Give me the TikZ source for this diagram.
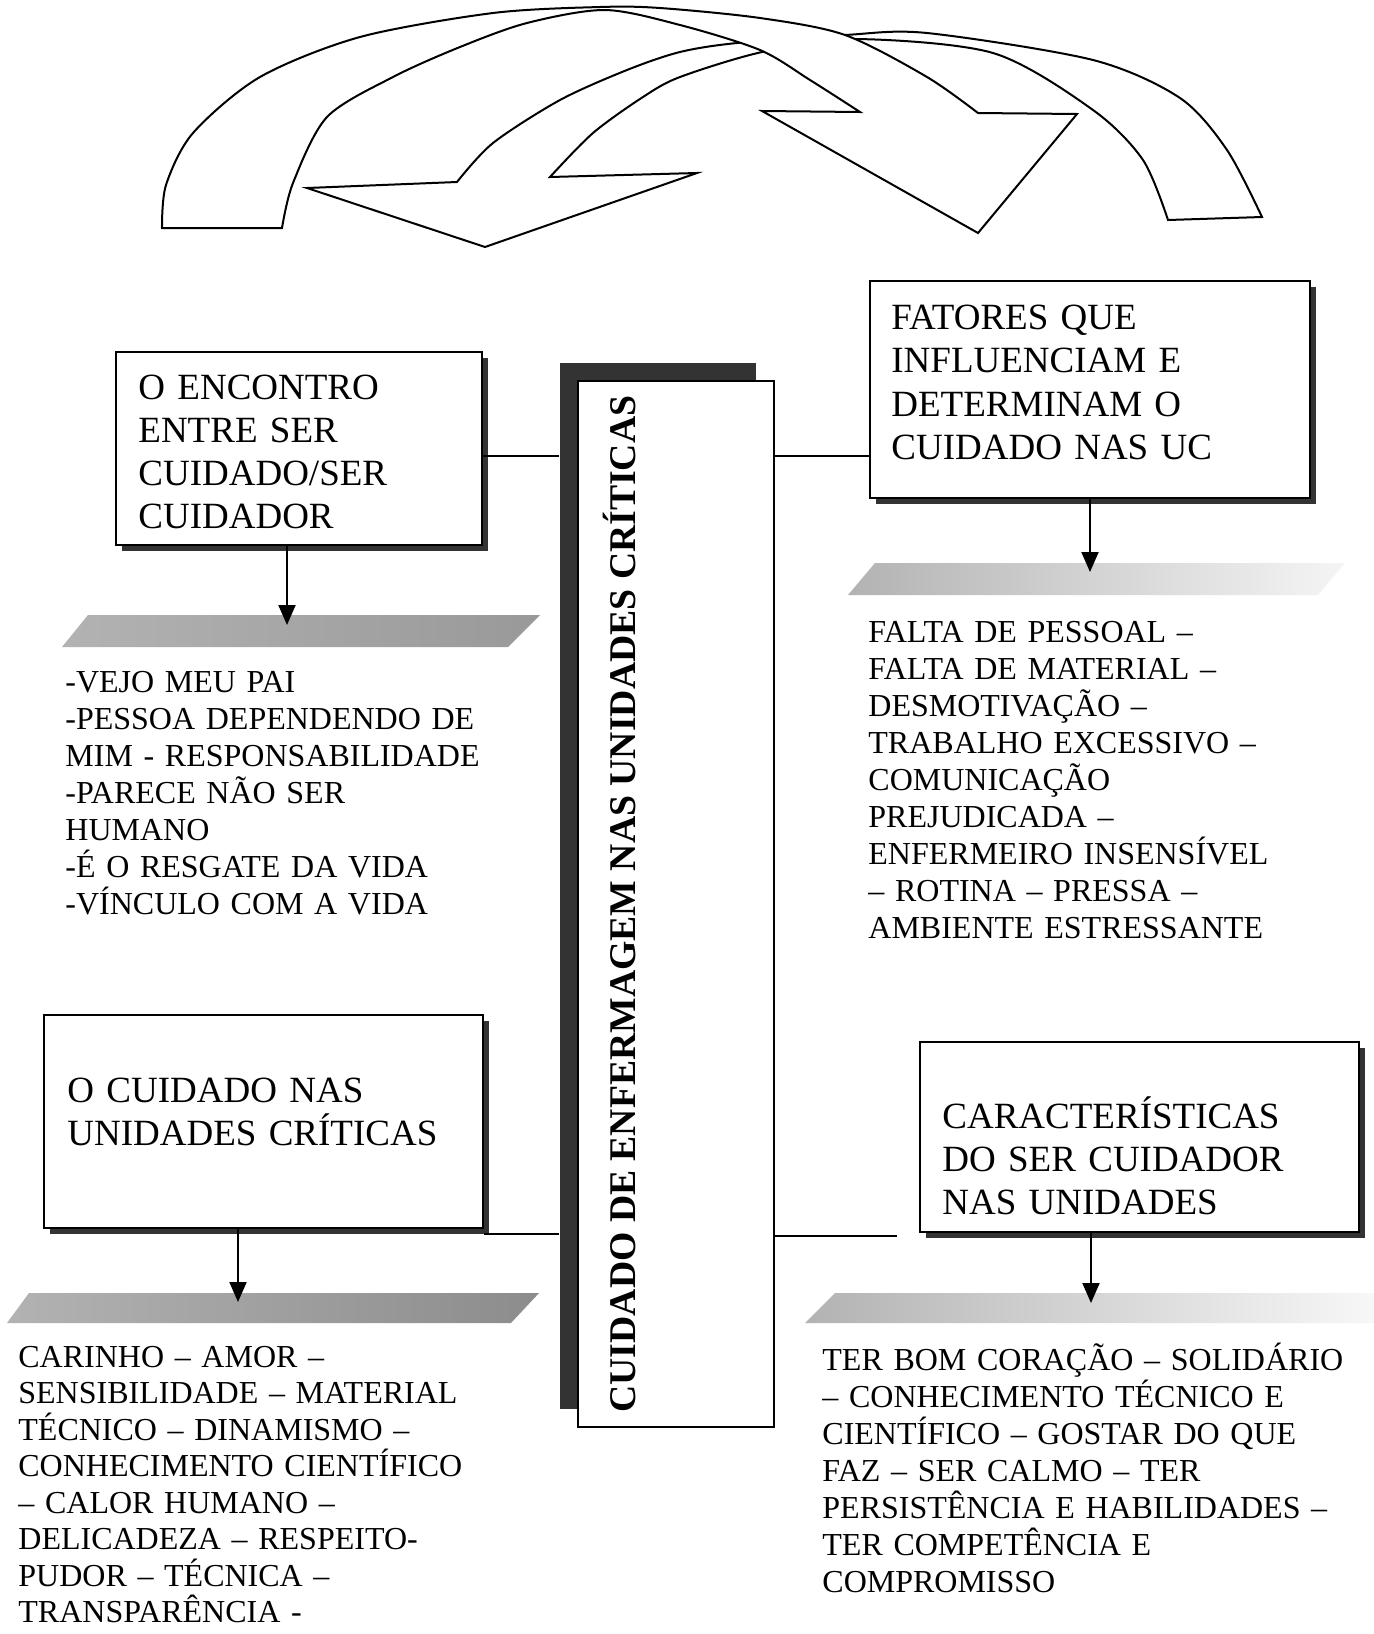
\documentclass[tikz,border=0pt]{standalone}
\usepackage{fontspec}
\setmainfont{Liberation Serif}
\usetikzlibrary{arrows.meta,shadows}
\begin{document}
\begin{tikzpicture}[x=0.5pt,y=-0.5pt,
  bigarrow/.style={draw=black, line width=1pt, fill=white, line join=miter},
  boxst/.style={draw=black, line width=1pt, fill=white, inner sep=0,
    drop shadow={shadow xshift=3pt, shadow yshift=-3pt, fill=black!80, opacity=1}},
  cboxst/.style={draw=black, line width=1pt, fill=white, inner sep=0,
    drop shadow={shadow xshift=-9pt, shadow yshift=9pt, fill=black!80, opacity=1}},
  btext/.style={anchor=base west, inner sep=0, align=left,
    font=\fontsize{18.5}{21.5}\selectfont},
  ltext/.style={anchor=base west, inner sep=0, align=left,
    font=\fontsize{16}{18.5}\selectfont},
  conn/.style={draw=black, line width=1pt},
  darr/.style={draw=black, line width=1pt, -{Triangle[width=8.5pt,length=10pt]}},
  barst/.style={draw=none}
]
\fill[white] (0,0) rectangle (1374,1634);
\useasboundingbox (0,0) rectangle (1374,1634);

% ---- top curved arrows ----
% arrow B (drawn first, passes under A)
\draw[bigarrow] (485,247) -- (697,173) -- (550,177)
 -- plot[smooth] coordinates {(550,177) (593,133) (643,97) (680,77) (762,52) (853,39) (993,53) (1093,110) (1143,160) (1168,220)}
 -- (1262,217)
 -- plot[smooth] coordinates {(1262,217) (1227,150) (1180,98) (1093,60) (927,33) (845,35) (737,43) (680,52) (627,70) (560,100) (493,143) (457,182)}
 -- (307,188) -- cycle;
% arrow A
\draw[bigarrow] plot[smooth] coordinates {(162,228) (166,185) (193,133) (260,77) (360,37) (493,13) (600,7) (660,8) (760,18) (845,35) (927,77) (978,113)}
 -- (1077,114) -- (978,233) -- (762,111) -- (860,112)
 -- plot[smooth] coordinates {(860,112) (810,80) (760,50) (680,25) (605,10) (527,23) (460,47) (393,77) (327,117) (293,183) (282,228)}
 -- cycle;

% ---- central box ----
\node[cboxst, minimum width=98pt, minimum height=523pt] (cbox) at (676,904) {};
\node[rotate=90, anchor=base, inner sep=0, font=\bfseries\fontsize{18.85}{20}\selectfont] (ctext) at (635,904) {CUIDADO DE ENFERMAGEM NAS UNIDADES CRÍTICAS};
\coordinate (csl) at ([xshift=-9pt]cbox.west);

% ---- boxes ----
\node[boxst, minimum width=183pt, minimum height=96.5pt] (b1) at (299,448.5) {};
\node[btext, text width=170pt] (t1) at (138,399) {O ENCONTRO\\ENTRE SER\\CUIDADO/SER\\CUIDADOR};

\node[boxst, minimum width=220pt, minimum height=108.5pt] (b2) at (1090,389.5) {};
\node[btext, text width=205pt, font=\fontsize{18.5}{21.75}\selectfont] (t2) at (891,329) {FATORES QUE\\INFLUENCIAM E\\DETERMINAM O\\CUIDADO NAS UC};

\node[boxst, minimum width=219.5pt, minimum height=106.5pt] (b3) at (263.5,1121.5) {};
\node[btext, text width=200pt] (t3) at (67,1102) {O CUIDADO NAS\\UNIDADES CRÍTICAS};

\node[boxst, minimum width=219.5pt, minimum height=95pt] (b4) at (1139.5,1137) {};
\node[btext, text width=200pt] (t4) at (942,1128) {CARACTERÍSTICAS\\DO SER CUIDADOR\\NAS UNIDADES};

% ---- connectors to central box ----
\coordinate (y1) at (0,456);
\coordinate (y3) at (0,1234);
\coordinate (e4) at (897,1236);
\draw[conn] (b1.east |- y1) -- (csl |- y1);
\draw[conn] (cbox.east |- y1) -- (b2.west |- y1);
\draw[conn] (b3.east |- y3) -- (csl |- y3);
\draw[conn] (cbox.east |- e4) -- (e4);

% ---- shaded bars ----
\shade[barst, left color=black!30, right color=black!40] (88,615) -- (540,615) -- (508,647) -- (62,647) -- cycle;
\shade[barst, left color=black!30, right color=black!4] (875,563) -- (1345,563) -- (1318,595) -- (848,595) -- cycle;
\shade[barst, left color=black!30, right color=black!45] (29,1293) -- (539,1293) -- (511,1323) -- (7,1323) -- cycle;
\shade[barst, left color=black!30, right color=black!3] (835,1293) -- (1374,1293) -- (1374,1323) -- (805,1323) -- cycle;

% ---- arrows to lists ----
\coordinate (a1) at (287,625);
\coordinate (a2) at (1090,572);
\coordinate (a3) at (238,1302);
\coordinate (a4) at (1091,1303);
\draw[darr] (a1 |- b1.south) -- (a1);
\draw[darr] (a2 |- b2.south) -- (a2);
\draw[darr] (a3 |- b3.south) -- (a3);
\draw[darr] (a4 |- b4.south) -- (a4);

% ---- lists ----
\node[ltext, text width=225pt] (l1) at (65,692) {-VEJO MEU PAI\\-PESSOA DEPENDENDO DE\\MIM - RESPONSABILIDADE\\-PARECE NÃO SER\\HUMANO\\-É O RESGATE DA VIDA\\-VÍNCULO COM A VIDA};
\node[ltext, text width=240pt] (l2) at (868,642) {FALTA DE PESSOAL –\\FALTA DE MATERIAL –\\DESMOTIVAÇÃO –\\TRABALHO EXCESSIVO –\\COMUNICAÇÃO\\PREJUDICADA –\\ENFERMEIRO INSENSÍVEL\\– ROTINA – PRESSA –\\AMBIENTE ESTRESSANTE};
\node[ltext, text width=260pt, font=\fontsize{16}{18.25}\selectfont] (l3) at (18,1367) {CARINHO – AMOR –\\SENSIBILIDADE – MATERIAL\\TÉCNICO – DINAMISMO –\\CONHECIMENTO CIENTÍFICO\\– CALOR HUMANO –\\DELICADEZA – RESPEITO-\\PUDOR – TÉCNICA –\\TRANSPARÊNCIA -};
\node[ltext, text width=270pt] (l4) at (822,1370) {TER BOM CORAÇÃO – SOLIDÁRIO\\– CONHECIMENTO TÉCNICO E\\CIENTÍFICO – GOSTAR DO QUE\\FAZ – SER CALMO – TER\\PERSISTÊNCIA E HABILIDADES –\\TER COMPETÊNCIA E\\COMPROMISSO};
\end{tikzpicture}
\end{document}
